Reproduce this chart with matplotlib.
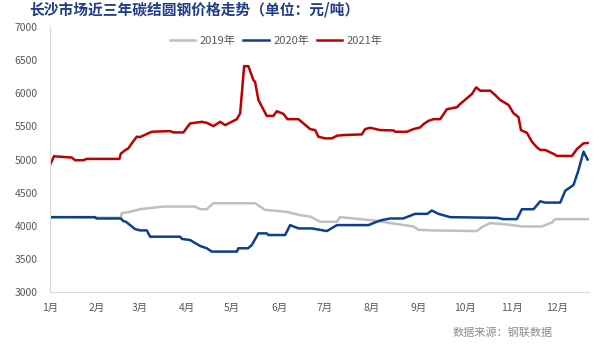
import matplotlib
matplotlib.use("Agg")
from matplotlib import pyplot as plt

plt.rcParams['font.family'] = ['Noto Sans CJK SC', 'DejaVu Sans']

# x = day of year (0 = 1 Jan)
month_start = [0, 31, 59, 90, 120, 151, 181, 212, 243, 273, 304, 334]
month_labels = ["1月", "2月", "3月", "4月", "5月", "6月", "7月", "8月", "9月", "10月", "11月", "12月"]

day_2019 = [0, 46.6, 47.2, 52.7, 59.3, 74.6, 95.5, 98.8, 103.2, 107.6, 135, 138.3, 141.6, 155.9,
            164.7, 171.3, 177.9, 188.9, 191, 204.2, 213, 227.3, 239.3, 242.6, 250.3, 281.1, 284.4,
            289.9, 300.9, 310.7, 323.9, 330.5, 332.7, 354.6]
price_2019 = [4130, 4120, 4190, 4210, 4250, 4290, 4290, 4250, 4250, 4340, 4340, 4290, 4240, 4210,
              4160, 4140, 4060, 4060, 4130, 4100, 4080, 4030, 3990, 3940, 3930, 3920, 3980,
              4040, 4020, 3990, 3990, 4050, 4100, 4100]

day_2020 = [0, 29.6, 30.6, 46.6, 48.3, 50, 56, 59.3, 63.7, 65.9, 85.6, 87, 92.2, 98.8, 103.2, 106.5,
            123, 124, 130.4, 132.9, 137.2, 142.7, 143.8, 154.8, 158.1, 163.6, 172.4, 182.3, 188.9,
            209.7, 214, 217.4, 224, 232.5, 240.4, 248.4, 251.4, 255.8, 263.5, 294.3, 298.6, 307.4,
            310.7, 318.4, 322.8, 326.1, 336, 339.3, 344.7, 348, 351.3, 354]
price_2020 = [4130, 4130, 4110, 4110, 4070, 4060, 3950, 3930, 3930, 3835, 3835, 3800, 3785, 3695, 3660, 3610,
              3610, 3660, 3660, 3710, 3885, 3885, 3860, 3860, 4010, 3960, 3960, 3920, 4010,
              4010, 4050, 4080, 4110, 4110, 4180, 4180, 4230, 4180, 4130, 4120, 4100, 4100,
              4250, 4250, 4370, 4350, 4350, 4530, 4615, 4840, 5120, 5000]

day_2021 = [0, 2.6, 14.3, 16.5, 21.9, 24.2, 45.7, 46.6, 49.4, 51.6, 53.8, 57.1, 59.3, 67, 79, 81.2,
            87.8, 92.2, 99.9, 103.2, 107.6, 112, 115.3, 123, 125.2, 127.8, 130.6, 133.9, 135, 137.2,
            142.7, 147.1, 149.3, 153.7, 156.3, 163.6, 171.3, 174.6, 176.7, 181.2, 185.6, 188.9,
            193.2, 205.3, 207.5, 210.8, 217.4, 226.2, 227.3, 235, 239.3, 243.7, 245.9, 249.2, 252.5,
            256.9, 261.3, 267.9, 270.1, 277.8, 280.6, 283.3, 289.9, 293.1, 296.4, 301.9, 305.2,
            308.5, 310.1, 314, 317.3, 320.6, 322.8, 326.1, 331.6, 333.8, 343.7, 347, 351.3, 354]
price_2021 = [4920, 5050, 5030, 4990, 4990, 5010, 5010, 5090, 5140, 5170, 5245, 5345, 5340, 5420, 5430, 5410,
              5410, 5545, 5570, 5555, 5505, 5570, 5520, 5610, 5700, 6410, 6410, 6200, 6175, 5900,
              5660, 5660, 5730, 5690, 5610, 5610, 5460, 5445, 5345, 5320, 5320, 5360,
              5370, 5380, 5460, 5480, 5445, 5440, 5420, 5420, 5460, 5485, 5535, 5585, 5610,
              5610, 5760, 5790, 5840, 5990, 6090, 6040, 6040, 5975, 5900, 5825, 5700,
              5640, 5445, 5405, 5270, 5185, 5145, 5145, 5085, 5055, 5055, 5160, 5245, 5250]

fig = plt.figure(figsize=(6.03, 3.48), dpi=100)
ax = fig.add_axes([0.083, 0.161, 0.894, 0.761])

ax.plot(day_2019, price_2019, color='#BFBFBF', lw=1.8, label='2019年')
ax.plot(day_2020, price_2020, color='#0D3F8F', lw=1.8, label='2020年')
ax.plot(day_2021, price_2021, color='#C00000', lw=1.8, label='2021年')

ax.set_xlim(0, 355)
ax.set_ylim(3000, 7000)
ax.set_yticks(range(3000, 7001, 500))
ax.set_xticks(month_start)
ax.set_xticklabels(month_labels)
ax.tick_params(axis='both', length=0, labelsize=7.5, colors='#595959')
ax.tick_params(axis='x', pad=8)
ax.tick_params(axis='y', pad=9)

for side in ['top', 'right']:
    ax.spines[side].set_visible(False)
ax.spines['left'].set_color('#D9D9D9')
ax.spines['bottom'].set_color('#D9D9D9')

fig.legend(loc='center', bbox_to_anchor=(0.458, 0.882), ncol=3, frameon=False,
           fontsize=8, handlelength=2.3, handletextpad=0.4, columnspacing=0.7, labelcolor='#595959')

fig.text(0.048, 0.972, "长沙市场近三年碳结圆钢价格走势（单位：元/吨）", fontsize=10.6,
         fontweight='bold', color='#1F3C88', va='center', ha='left')
fig.text(0.75, 0.043, "数据来源：钢联数据", fontsize=8, color='#8C8C8C', va='center', ha='left')

fig.savefig('out.png', dpi=100)
